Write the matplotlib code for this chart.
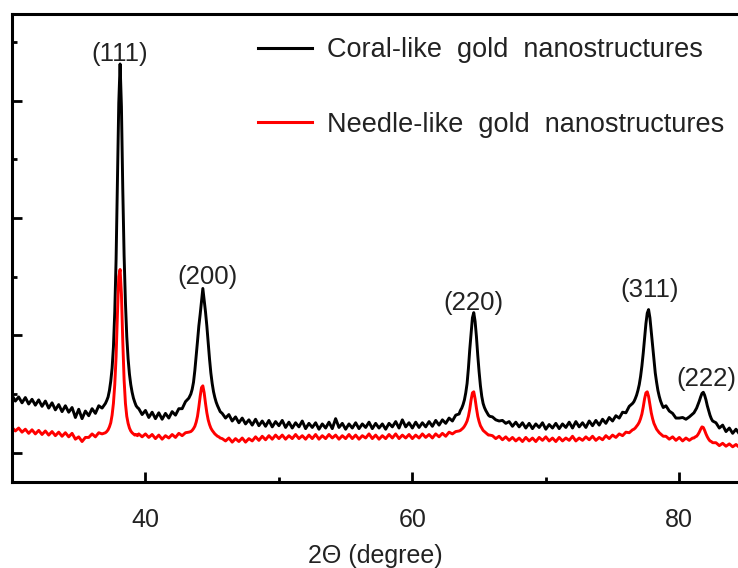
import matplotlib
matplotlib.use("Agg")
import matplotlib.pyplot as plt
from matplotlib.ticker import MultipleLocator, FixedLocator
import numpy as np

plt.rcParams['font.family'] = ['Liberation Sans', 'DejaVu Sans']

# scan grid: (start, step, n points) - finer steps around the reflections
scan_segments = [(30.0, 0.25, 28), (37.0, 0.1, 25), (39.5, 0.25, 16),
                 (43.4, 0.1, 23), (45.75, 0.25, 72), (63.6, 0.1, 23),
                 (66.0, 0.25, 43), (76.6, 0.1, 23), (79.0, 0.25, 9),
                 (81.1, 0.1, 15), (82.75, 0.25, 8)]

coral = [
    # 30.00 - 36.75
    1490, 1440, 1475, 1425, 1470, 1415, 1455, 1405, 1450, 1395, 1440, 1380, 1425, 1365,
    1410, 1350, 1400, 1345, 1385, 1300, 1370, 1290, 1355, 1315, 1375, 1335, 1400, 1380,
    # 37.0 - 39.4 (111)
    1420, 1445, 1475, 1530, 1610, 1720, 1900, 2200, 2650, 3300, 3980, 4314, 3950,
    3250, 2680, 2280, 1990, 1800, 1670, 1580, 1515, 1465, 1430, 1400, 1385,
    # 39.50 - 43.25
    1375, 1325, 1360, 1300, 1345, 1290, 1340, 1285, 1335, 1295, 1350, 1320, 1375, 1375,
    1435, 1465,
    # 43.4 - 45.6 (200)
    1500, 1540, 1600, 1700, 1820, 1950, 2080, 2180, 2290, 2400, 2300, 2200, 2080, 1940,
    1800, 1680, 1590, 1520, 1470, 1430, 1400, 1375, 1350,
    # 45.75 - 63.50
    1335, 1295, 1325, 1270, 1305, 1255, 1295, 1245, 1280, 1235, 1285, 1230, 1270, 1225,
    1275, 1220, 1265, 1230, 1275, 1215, 1260, 1210, 1255, 1220, 1270, 1205, 1250, 1215,
    1255, 1200, 1245, 1210, 1260, 1205, 1290, 1215, 1250, 1200, 1245, 1210, 1255, 1205,
    1245, 1215, 1260, 1205, 1250, 1210, 1245, 1200, 1250, 1220, 1265, 1210, 1280, 1220,
    1255, 1210, 1260, 1215, 1255, 1220, 1265, 1225, 1275, 1235, 1280, 1250, 1295, 1270,
    1320, 1330,
    # 63.6 - 65.8 (220)
    1360, 1380, 1410, 1450, 1510, 1590, 1720, 1880, 2020, 2150, 2194, 2120, 1990, 1830,
    1690, 1570, 1480, 1420, 1385, 1360, 1340, 1320, 1310,
    # 66.00 - 76.50
    1305, 1280, 1270, 1275, 1250, 1265, 1225, 1260, 1220, 1255, 1210, 1250, 1205, 1245,
    1215, 1255, 1200, 1240, 1210, 1250, 1205, 1245, 1215, 1260, 1210, 1265, 1220, 1255,
    1215, 1270, 1230, 1275, 1235, 1285, 1250, 1300, 1270, 1315, 1295, 1345, 1340, 1395,
    1420,
    # 76.6 - 78.8 (311)
    1435, 1460, 1490, 1530, 1580, 1650, 1740, 1850, 1980, 2100, 2190, 2220, 2150, 2030,
    1900, 1780, 1680, 1600, 1530, 1480, 1440, 1410, 1385,
    # 79.00 - 81.00
    1400, 1355, 1335, 1295, 1295, 1300, 1285, 1305, 1330,
    # 81.1 - 82.5 (222)
    1340, 1360, 1380, 1410, 1440, 1475, 1505, 1515, 1490, 1450, 1400, 1360, 1320, 1290,
    1270,
    # 82.75 - 84.50
    1255, 1210, 1235, 1180, 1210, 1165, 1200, 1160,
]

needle = [
    # 30.00 - 36.75
    1215, 1185, 1210, 1175, 1200, 1165, 1195, 1160, 1190, 1155, 1185, 1150, 1180, 1145,
    1175, 1140, 1170, 1135, 1165, 1115, 1135, 1095, 1130, 1130, 1160, 1135, 1170, 1160,
    # 37.0 - 39.4 (111)
    1170, 1180, 1195, 1220, 1255, 1320, 1420, 1580, 1820, 2180, 2500, 2562, 2350,
    1950, 1620, 1420, 1310, 1250, 1210, 1185, 1170, 1160, 1150, 1155, 1145,
    # 39.50 - 43.25
    1160, 1135, 1160, 1130, 1155, 1120, 1150, 1115, 1145, 1125, 1155, 1130, 1165, 1145,
    1170, 1175,
    # 43.4 - 45.6 (200)
    1180, 1190, 1205, 1225, 1260, 1310, 1390, 1480, 1555, 1570, 1510, 1420, 1340, 1280,
    1240, 1210, 1190, 1175, 1160, 1150, 1140, 1135, 1125,
    # 45.75 - 63.50
    1120, 1100, 1125, 1090, 1120, 1095, 1125, 1090, 1120, 1100, 1135, 1105, 1140, 1110,
    1145, 1115, 1150, 1120, 1150, 1115, 1145, 1120, 1155, 1120, 1145, 1115, 1150, 1120,
    1155, 1115, 1145, 1120, 1155, 1125, 1150, 1115, 1145, 1120, 1155, 1120, 1150, 1115,
    1145, 1125, 1160, 1120, 1150, 1115, 1145, 1120, 1155, 1125, 1160, 1120, 1150, 1125,
    1155, 1120, 1150, 1125, 1160, 1130, 1155, 1125, 1160, 1135, 1165, 1140, 1175, 1160,
    1180, 1185,
    # 63.6 - 65.8 (220)
    1190, 1200, 1210, 1225, 1245, 1270, 1310, 1370, 1450, 1510, 1519, 1460, 1380, 1310,
    1265, 1230, 1210, 1190, 1180, 1170, 1160, 1150, 1150,
    # 66.00 - 76.50
    1145, 1120, 1140, 1110, 1135, 1105, 1130, 1100, 1125, 1095, 1130, 1100, 1125, 1095,
    1130, 1105, 1135, 1100, 1125, 1095, 1130, 1100, 1125, 1105, 1140, 1100, 1125, 1105,
    1135, 1110, 1140, 1105, 1130, 1110, 1145, 1120, 1150, 1130, 1160, 1145, 1175, 1170,
    1195,
    # 76.6 - 78.8 (311)
    1200, 1210, 1225, 1240, 1260, 1290, 1330, 1390, 1460, 1510, 1519, 1480, 1410, 1340,
    1290, 1250, 1225, 1200, 1185, 1170, 1160, 1150, 1140,
    # 79.00 - 81.00
    1140, 1115, 1135, 1105, 1130, 1100, 1125, 1105, 1125,
    # 81.1 - 82.5 (222)
    1125, 1135, 1140, 1155, 1175, 1200, 1220, 1215, 1190, 1160, 1135, 1115, 1100, 1095,
    1085,
    # 82.75 - 84.50
    1085, 1060, 1080, 1055, 1075, 1050, 1070, 1045,
]

peak_labels = ['(111)', '(200)', '(220)', '(311)', '(222)']
peak_label_x = [38.05, 44.65, 64.6, 77.8, 82.0]
peak_label_y = [4395, 2495, 2280, 2385, 1625]

two_theta = np.concatenate([s + d * np.arange(n) for s, d, n in scan_segments])
assert len(two_theta) == len(coral) == len(needle)

fig = plt.figure(figsize=(7.38, 5.68), dpi=100)
ax = fig.add_axes([12 / 738, 1 - 482 / 568, 1 - 12 / 738, (482 - 14) / 568])

ax.plot(two_theta, coral, color='black', lw=2.1,
        label='Coral-like  gold  nanostructures')
ax.plot(two_theta, needle, color='#ff0000', lw=2.1,
        label='Needle-like  gold  nanostructures')

for lab, xx, yy in zip(peak_labels, peak_label_x, peak_label_y):
    ax.text(xx, yy, lab, ha='center', va='center', fontsize=18.5, color='#222222')

ax.set_xlim(30, 84.4)
ax.set_ylim(750, 4740)

ax.xaxis.set_major_locator(FixedLocator([40, 60, 80]))
ax.xaxis.set_minor_locator(FixedLocator([50, 70]))
ax.yaxis.set_major_locator(MultipleLocator(1000))
ax.yaxis.set_minor_locator(FixedLocator([1500, 2500, 3500, 4500]))

ax.tick_params(which='both', direction='in', width=2.0, colors='black')
ax.tick_params(which='major', length=7)
ax.tick_params(which='minor', length=3.5)
ax.tick_params(axis='y', labelleft=False)
ax.tick_params(axis='x', labelsize=18, pad=19, labelcolor='#222222')

for side in ['left', 'bottom', 'top']:
    ax.spines[side].set_linewidth(2.2)
ax.spines['right'].set_visible(False)

ax.set_xlabel('2Θ (degree)', fontsize=18, labelpad=8, color='#222222')

leg = ax.legend(loc='upper left', bbox_to_anchor=(258 / 738, 1 - 37 / 568),
                bbox_transform=fig.transFigure, frameon=False, fontsize=19.5,
                handlelength=2.0, handletextpad=0.55, labelspacing=1.8,
                borderpad=0, borderaxespad=0)
for line in leg.get_lines():
    line.set_linewidth(2.2)
for t in leg.get_texts():
    t.set_color('#222222')

fig.savefig('out.png', dpi=100)
